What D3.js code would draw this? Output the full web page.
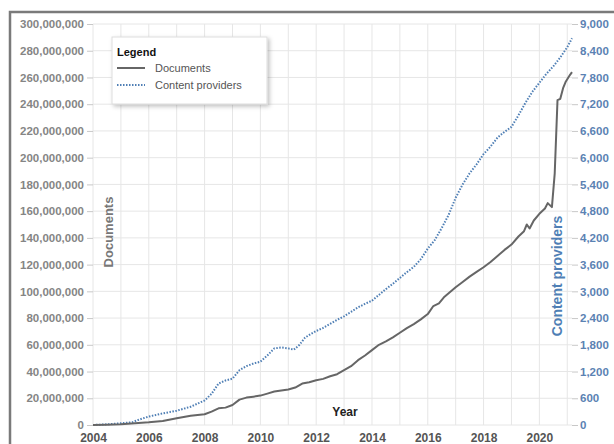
<!DOCTYPE html>
<html>
<head>
<meta charset="utf-8">
<script src="https://cdn.jsdelivr.net/npm/d3@7"></script>
<style>
  body { margin: 0; background: #fff; }
  svg text { font-family: "Liberation Sans", Arial, sans-serif; }
</style>
</head>
<body>
<script>
// data
const docYears = [2004.0, 2004.5, 2005.0, 2005.5, 2006.0, 2006.5, 2007.0, 2007.5, 2008.0, 2008.25,
  2008.5, 2008.75, 2009.0, 2009.25, 2009.5, 2009.75, 2010.0, 2010.25, 2010.5, 2010.75,
  2011.0, 2011.25, 2011.5, 2011.75, 2012.0, 2012.25, 2012.5, 2012.75, 2013.0, 2013.25,
  2013.5, 2013.75, 2014.0, 2014.25, 2014.5, 2014.75, 2015.0, 2015.25, 2015.5, 2015.75,
  2016.0, 2016.2, 2016.4, 2016.6, 2016.8, 2017.0, 2017.25, 2017.5, 2017.75, 2018.0,
  2018.25, 2018.5, 2018.75, 2019.0, 2019.25, 2019.45, 2019.55, 2019.65, 2019.8, 2020.0,
  2020.2, 2020.3, 2020.45, 2020.55, 2020.65, 2020.75, 2020.85, 2020.95, 2021.1, 2021.17];
const documents = [0, 0.2e6, 0.6e6, 1.3e6, 2.0e6, 3.0e6, 5.0e6, 7.0e6, 8.0e6, 10e6,
  12.5e6, 13e6, 15e6, 19e6, 20.5e6, 21.2e6, 22e6, 23.5e6, 25e6, 25.8e6,
  26.5e6, 28e6, 31e6, 32e6, 33.5e6, 34.5e6, 36.5e6, 38e6, 41e6, 44e6,
  48.5e6, 52e6, 56e6, 60e6, 62.5e6, 65.5e6, 69e6, 72.5e6, 75.5e6, 79e6,
  83e6, 89e6, 91e6, 96e6, 99.5e6, 103e6, 107e6, 111e6, 114.5e6, 118e6,
  122e6, 126.5e6, 131e6, 135e6, 141e6, 145e6, 150e6, 147e6, 153e6, 158e6,
  162e6, 166e6, 163e6, 188e6, 243e6, 244e6, 252e6, 257e6, 262e6, 264e6];

const cpYears = [2004.0, 2004.5, 2005.0, 2005.4, 2005.6, 2006.0, 2006.5, 2007.0, 2007.5, 2008.0,
  2008.25, 2008.5, 2008.75, 2009.0, 2009.25, 2009.5, 2009.75, 2010.0, 2010.25, 2010.5,
  2010.75, 2011.0, 2011.2, 2011.4, 2011.6, 2011.8, 2012.0, 2012.25, 2012.5, 2012.75,
  2013.0, 2013.25, 2013.5, 2013.75, 2014.0, 2014.25, 2014.5, 2014.75, 2015.0, 2015.25,
  2015.5, 2015.75, 2016.0, 2016.25, 2016.5, 2016.75, 2017.0, 2017.25, 2017.5, 2017.75,
  2018.0, 2018.25, 2018.5, 2018.75, 2019.0, 2019.25, 2019.5, 2019.75, 2020.0, 2020.25,
  2020.5, 2020.75, 2021.0, 2021.17];
const providers = [0, 15, 40, 60, 110, 190, 260, 320, 410, 550,
  700, 930, 1000, 1040, 1230, 1320, 1380, 1420, 1560, 1720,
  1740, 1720, 1690, 1800, 1960, 2040, 2110, 2180, 2270, 2360,
  2440, 2540, 2640, 2720, 2790, 2920, 3050, 3170, 3300, 3430,
  3550, 3720, 3960, 4150, 4420, 4720, 5100, 5400, 5650, 5850,
  6080, 6250, 6450, 6580, 6690, 6950, 7230, 7480, 7680, 7880,
  8050, 8250, 8480, 8680];

const xTicks = [2004, 2006, 2008, 2010, 2012, 2014, 2016, 2018, 2020];
const yearGrid = d3.range(2004, 2022);
const leftTicks = d3.range(0, 300e6 + 1, 20e6);
const rightTicks = d3.range(0, 9001, 600);

const width = 614, height = 444;
const plotLeft = 93, plotRight = 572, plotTop = 24, plotBottom = 425;

const svg = d3.select("body").append("svg")
  .attr("width", width)
  .attr("height", height);

// outer frame
svg.append("rect")
  .attr("x", 10).attr("y", 12)
  .attr("width", 640).attr("height", 480)
  .attr("fill", "#fff")
  .attr("stroke", "#7a7a7a")
  .attr("stroke-width", 2.5);

const x = d3.scaleLinear().domain([2004, 2021.17]).range([plotLeft, plotRight]);
const yDoc = d3.scaleLinear().domain([0, 300e6]).range([plotBottom, plotTop]);
const yCp = d3.scaleLinear().domain([0, 9000]).range([plotBottom, plotTop]);

// grid
svg.append("g").selectAll("line").data(yearGrid).join("line")
  .attr("x1", d => x(d)).attr("x2", d => x(d))
  .attr("y1", plotTop).attr("y2", plotBottom)
  .attr("stroke", "#e6e6e6");
svg.append("g").selectAll("line").data(leftTicks).join("line")
  .attr("x1", plotLeft).attr("x2", plotRight)
  .attr("y1", d => yDoc(d)).attr("y2", d => yDoc(d))
  .attr("stroke", "#e6e6e6");

// axes
const leftAxis = svg.append("g")
  .attr("transform", "translate(" + plotLeft + ",0)")
  .call(d3.axisLeft(yDoc).tickValues(leftTicks).tickFormat(d3.format(",")).tickSize(6).tickPadding(3));
leftAxis.select(".domain").remove();
leftAxis.selectAll("line").attr("stroke", "#c8c8c8");
leftAxis.selectAll("text")
  .attr("fill", "#858585")
  .style("font-size", "11.5px").style("font-weight", "bold");

const rightAxis = svg.append("g")
  .attr("transform", "translate(" + plotRight + ",0)")
  .call(d3.axisRight(yCp).tickValues(rightTicks).tickFormat(d3.format(",")).tickSize(6).tickPadding(2));
rightAxis.select(".domain").remove();
rightAxis.selectAll("line").attr("stroke", "#c8c8c8");
rightAxis.selectAll("text")
  .attr("fill", "#5b82b3")
  .style("font-size", "11.5px").style("font-weight", "bold");

const bottomAxis = svg.append("g")
  .attr("transform", "translate(0," + plotBottom + ")")
  .call(d3.axisBottom(x).tickValues(xTicks).tickFormat(d3.format("d")).tickSize(0).tickPadding(8));
bottomAxis.select(".domain").remove();
bottomAxis.selectAll("text")
  .attr("fill", "#555")
  .style("font-size", "12px").style("font-weight", "bold");

// lines
const docLine = d3.line()
  .x((d, i) => x(docYears[i]))
  .y(d => yDoc(d));
const cpLine = d3.line()
  .x((d, i) => x(cpYears[i]))
  .y(d => yCp(d));

svg.append("path")
  .datum(providers)
  .attr("fill", "none")
  .attr("stroke", "#4f7fb5")
  .attr("stroke-width", 2)
  .attr("stroke-dasharray", "1.5,1.5")
  .attr("d", cpLine);

svg.append("path")
  .datum(documents)
  .attr("fill", "none")
  .attr("stroke", "#666")
  .attr("stroke-width", 2)
  .attr("stroke-linejoin", "round")
  .attr("d", docLine);

// axis titles
svg.append("text")
  .attr("transform", "translate(113,232) rotate(-90)")
  .attr("text-anchor", "middle")
  .attr("fill", "#777")
  .style("font-size", "13px").style("font-weight", "bold")
  .text("Documents");

svg.append("text")
  .attr("transform", "translate(562,276) rotate(-90)")
  .attr("text-anchor", "middle")
  .attr("fill", "#4f7fb5")
  .style("font-size", "14px").style("font-weight", "bold")
  .text("Content providers");

svg.append("text")
  .attr("x", 345).attr("y", 416)
  .attr("text-anchor", "middle")
  .attr("fill", "#222")
  .style("font-size", "12px").style("font-weight", "bold")
  .text("Year");

// legend
const defs = svg.append("defs");
const f = defs.append("filter").attr("id", "shadow")
  .attr("x", "-10%").attr("y", "-10%").attr("width", "130%").attr("height", "140%");
f.append("feDropShadow").attr("dx", 2).attr("dy", 2).attr("stdDeviation", 2)
  .attr("flood-color", "#000").attr("flood-opacity", 0.25);

const legend = svg.append("g").attr("transform", "translate(112,37)");
legend.append("rect")
  .attr("width", 155).attr("height", 67)
  .attr("fill", "#fff")
  .attr("stroke", "#ddd")
  .attr("filter", "url(#shadow)");
legend.append("text")
  .attr("x", 5).attr("y", 19)
  .attr("fill", "#111")
  .style("font-size", "11px").style("font-weight", "bold")
  .text("Legend");
legend.append("line")
  .attr("x1", 5).attr("x2", 33).attr("y1", 31).attr("y2", 31)
  .attr("stroke", "#666").attr("stroke-width", 2);
legend.append("text")
  .attr("x", 43).attr("y", 35)
  .attr("fill", "#555")
  .style("font-size", "11px")
  .text("Documents");
legend.append("line")
  .attr("x1", 5).attr("x2", 33).attr("y1", 48).attr("y2", 48)
  .attr("stroke", "#4f7fb5").attr("stroke-width", 2)
  .attr("stroke-dasharray", "1.5,1.5");
legend.append("text")
  .attr("x", 43).attr("y", 52)
  .attr("fill", "#555")
  .style("font-size", "11px")
  .text("Content providers");
</script>
</body>
</html>
